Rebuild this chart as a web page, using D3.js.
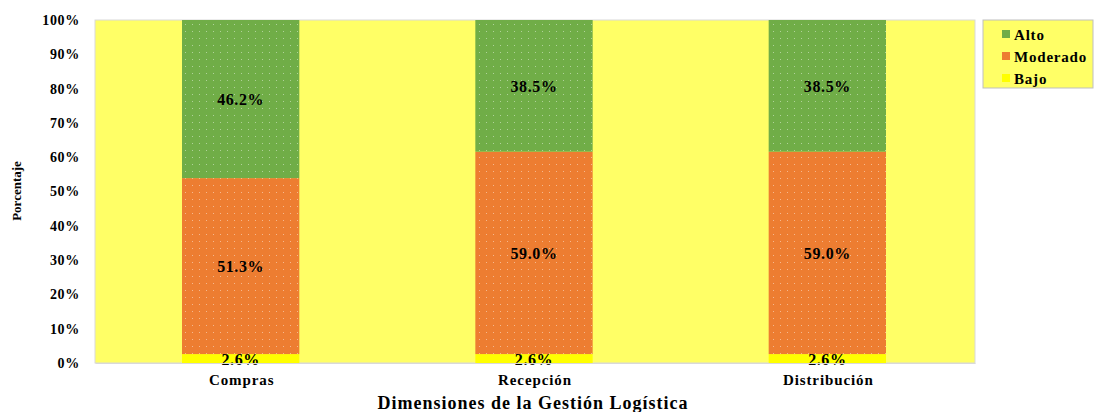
<!DOCTYPE html>
<html>
<head>
<meta charset="utf-8">
<script src="https://cdn.jsdelivr.net/npm/d3@7"></script>
<style>
  body { margin: 0; background: #fff; }
  svg text { font-family: "Liberation Serif", "Times New Roman", serif; font-weight: bold; fill: #000; }
</style>
</head>
<body>
<svg id="chart" width="1094" height="412"></svg>
<script>
// data
const categories = ['Compras', 'Recepción', 'Distribución'];
const series = ['Bajo', 'Moderado', 'Alto'];
const bajo = [2.6, 2.6, 2.6];
const moderado = [51.3, 59.0, 59.0];
const alto = [46.2, 38.5, 38.5];
const yTicks = [0, 10, 20, 30, 40, 50, 60, 70, 80, 90, 100];
const colors = { Bajo: '#FFFF00', Moderado: '#ED7D31', Alto: '#70AD47' };

const svg = d3.select('#chart');
const plot = { left: 95, right: 975, top: 20, bottom: 363 };

const x = d3.scaleBand()
  .domain(categories)
  .range([plot.left, plot.right])
  .paddingInner(0.6)
  .paddingOuter(0.3);

const y = d3.scaleLinear()
  .domain([0, 100])
  .range([plot.bottom, plot.top])
  .clamp(true);

// dotted fill like the original
const defs = svg.append('defs');
series.forEach((s) => {
  const p = defs.append('pattern')
    .attr('id', 'pat-' + s)
    .attr('width', 7).attr('height', 7)
    .attr('patternUnits', 'userSpaceOnUse');
  p.append('rect').attr('width', 7).attr('height', 7).attr('fill', colors[s]);
  if (s !== 'Bajo') {
    p.append('rect').attr('x', 3).attr('y', 3).attr('width', 1).attr('height', 1)
      .attr('fill', '#fff').attr('opacity', 0.45);
  }
});

// plot background
svg.append('rect')
  .attr('x', plot.left).attr('y', plot.top)
  .attr('width', plot.right - plot.left).attr('height', plot.bottom - plot.top)
  .attr('fill', '#FFFF66')
  .attr('stroke', '#d9d9d9');

const rows = categories.map((c, i) => ({ cat: c, Bajo: bajo[i], Moderado: moderado[i], Alto: alto[i] }));
const stacked = d3.stack().keys(series)(rows);

const layer = svg.append('g').selectAll('g')
  .data(stacked)
  .enter().append('g')
    .attr('fill', (d) => 'url(#pat-' + d.key + ')');

layer.selectAll('rect')
  .data((d) => d)
  .enter().append('rect')
    .attr('x', (d) => x(d.data.cat) - 1)
    .attr('width', x.bandwidth())
    .attr('y', (d) => y(d[1]))
    .attr('height', (d) => y(d[0]) - y(d[1]));

// value labels
stacked.forEach((s) => {
  svg.append('g').selectAll('text')
    .data(s)
    .enter().append('text')
      .attr('x', (d) => x(d.data.cat) + x.bandwidth() / 2 - 1)
      .attr('y', (d) => (y(d[0]) + y(d[1])) / 2 + 6)
      .attr('text-anchor', 'middle')
      .attr('font-size', 16)
      .style('letter-spacing', '0.6px')
      .text((d) => d.data[s.key].toFixed(1) + '%');
});

// axes
const yAxis = svg.append('g')
  .attr('transform', `translate(${plot.left},0)`)
  .call(d3.axisLeft(y).tickValues(yTicks).tickFormat((d) => d + '%').tickSize(0).tickPadding(15));
yAxis.select('.domain').remove();
yAxis.selectAll('text').attr('font-size', 14).style('letter-spacing', '0.7px');

const xAxis = svg.append('g')
  .attr('transform', `translate(0,${plot.bottom})`)
  .call(d3.axisBottom(x).tickSize(0).tickPadding(11));
xAxis.select('.domain').attr('stroke', '#d9d9d9');
xAxis.selectAll('text').attr('font-size', 15).style('letter-spacing', '0.9px');

svg.append('text')
  .attr('transform', 'translate(21,191) rotate(-90)')
  .attr('text-anchor', 'middle')
  .attr('font-size', 13)
  .text('Porcentaje');

svg.append('text')
  .attr('x', 533).attr('y', 409)
  .attr('text-anchor', 'middle')
  .attr('font-size', 18)
  .style('letter-spacing', '1px')
  .text('Dimensiones de la Gestión Logística');

// legend
const legend = svg.append('g');
legend.append('rect')
  .attr('x', 983).attr('y', 20).attr('width', 110).attr('height', 68)
  .attr('fill', '#FFFF66').attr('stroke', '#bfbfbf');
const legendItems = series.slice().reverse();
legendItems.forEach((s, i) => {
  const ly = 34 + i * 22;
  legend.append('rect')
    .attr('x', 1002).attr('y', ly - 4).attr('width', 8).attr('height', 8)
    .attr('fill', colors[s]);
  legend.append('text')
    .attr('x', 1014).attr('y', ly + 6)
    .attr('font-size', 15)
    .style('letter-spacing', '0.8px')
    .text(s);
});
</script>
</body>
</html>
